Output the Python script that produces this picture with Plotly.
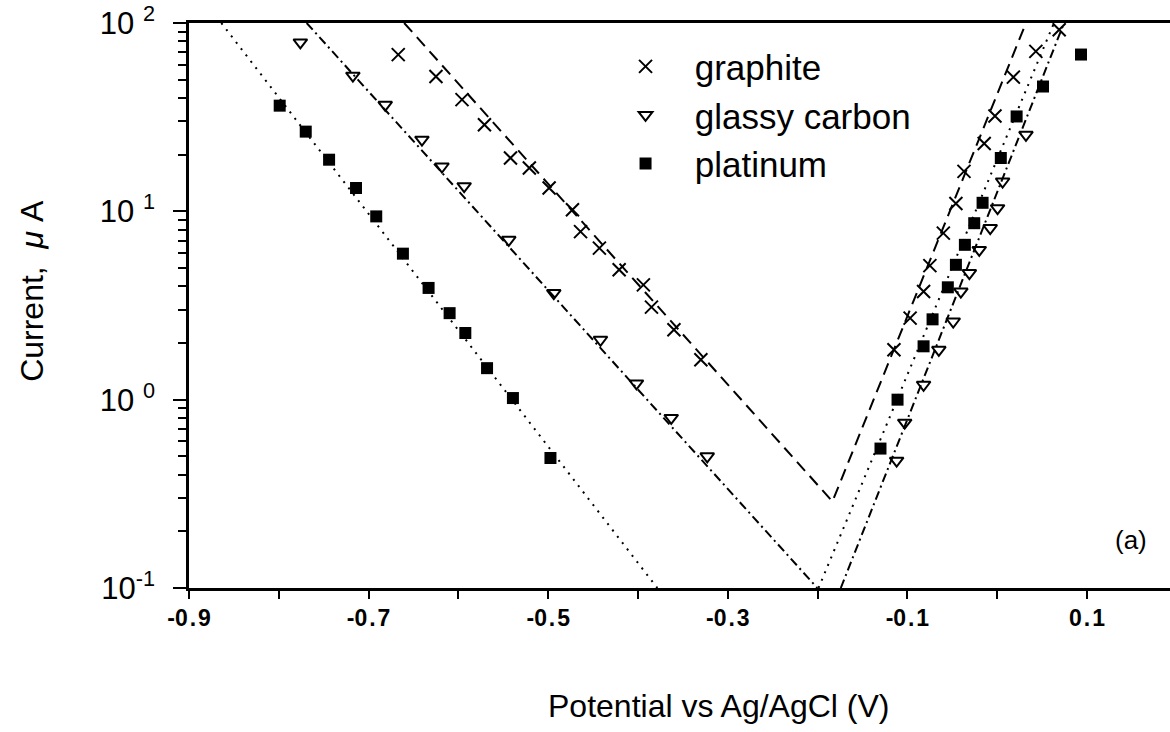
import plotly.graph_objects as go

# Tafel-type data: potential (V vs Ag/AgCl) and current (uA) for three electrodes
graphite_x = [-0.667, -0.625, -0.596, -0.571, -0.542, -0.521, -0.499, -0.473, -0.464,
              -0.443, -0.421, -0.394, -0.385, -0.360, -0.330,
              -0.115, -0.097, -0.082, -0.075, -0.060, -0.046, -0.037, -0.0145,
              -0.0025, 0.018, 0.043, 0.069]
graphite_i = [67.9, 52.0, 39.2, 28.8, 19.2, 17.0, 13.3, 10.2, 7.8,
              6.38, 4.9, 4.07, 3.1, 2.35, 1.63,
              1.84, 2.71, 3.75, 5.15, 7.66, 11.0, 16.3, 22.9,
              32.1, 51.6, 70.7, 92.0]

glassy_x = [-0.776, -0.7175, -0.6815, -0.6406, -0.6183, -0.5936, -0.5439, -0.4938,
            -0.4418, -0.4017, -0.363, -0.3229,
            -0.112, -0.103, -0.082, -0.065, -0.049, -0.0405, -0.031, -0.020,
            -0.0078, 0.0004, 0.006, 0.032]
glassy_i = [78.9, 52.5, 36.8, 24.0, 17.3, 13.6, 7.06, 3.68,
            2.08, 1.22, 0.80, 0.50,
            0.474, 0.755, 1.2, 1.84, 2.6, 3.75, 4.7, 6.24,
            8.15, 10.4, 14.4, 25.5]

platinum_x = [-0.799, -0.770, -0.744, -0.714, -0.6915, -0.6618, -0.6332, -0.6098,
              -0.5923, -0.5681, -0.5393, -0.4975,
              -0.130, -0.111, -0.082, -0.072, -0.055, -0.046, -0.036, -0.0256,
              -0.0163, 0.004, 0.0216, 0.051, 0.0933]
platinum_i = [36.4, 26.5, 18.8, 13.3, 9.4, 5.96, 3.92, 2.88,
              2.26, 1.47, 1.02, 0.49,
              0.55, 1.0, 1.92, 2.67, 3.95, 5.2, 6.64, 8.65,
              11.1, 19.2, 31.9, 46.0, 68.0]

# Fitted Tafel lines (cathodic and anodic branches)
graphite_fit_x = [-0.6604, -0.1835, 0.032]
graphite_fit_i = [100, 0.288, 100]
glassy_fit_x = [-0.769, -0.2003, None, -0.1742, 0.0744]
glassy_fit_i = [100, 0.1, None, 0.1, 100]
platinum_fit_x = [-0.864, -0.3785, None, -0.199, 0.0632]
platinum_fit_i = [100, 0.1, None, 0.1, 100]

sp = "\u200a"
x_tick_vals = [-0.9, -0.7, -0.5, -0.3, -0.1, 0.1]
x_tick_text = ["-0" + sp + "." + sp + "9", "-0" + sp + "." + sp + "7",
               "-0" + sp + "." + sp + "5", "-0" + sp + "." + sp + "3",
               "-0" + sp + "." + sp + "1", "0" + sp + "." + sp + "1"]
x_minor_vals = [-0.8, -0.6, -0.4, -0.2, 0.0]
y_tick_vals = [0.1, 1, 10, 100]
y_tick_text = ["10<sup>-1</sup>", "10<sup>\u2009\u20090</sup>",
               "10<sup>\u2009\u20091</sup>", "10<sup>\u2009\u20092</sup>"]
y_minor_vals = [m * 10 ** k for k in (-1, 0, 1) for m in range(2, 10)]

FONT = "Liberation Sans, Arial, Helvetica, sans-serif"
INK = "black"

fig = go.Figure()

fig.add_trace(go.Scatter(x=graphite_fit_x, y=graphite_fit_i, mode="lines",
                         line=dict(color=INK, width=2, dash="12px,7px"),
                         showlegend=False, hoverinfo="skip"))
fig.add_trace(go.Scatter(x=glassy_fit_x, y=glassy_fit_i, mode="lines",
                         line=dict(color=INK, width=2, dash="9px,4px,2px,4px"),
                         showlegend=False, hoverinfo="skip", connectgaps=False))
fig.add_trace(go.Scatter(x=platinum_fit_x, y=platinum_fit_i, mode="lines",
                         line=dict(color=INK, width=2, dash="2px,6px"),
                         showlegend=False, hoverinfo="skip", connectgaps=False))

nb = "\u00a0\u00a0\u00a0"
fig.add_trace(go.Scatter(x=graphite_x, y=graphite_i, mode="markers",
                         name=nb + "graphite", cliponaxis=False,
                         marker=dict(symbol="x-thin", size=13, color=INK,
                                     line=dict(color=INK, width=2))))
fig.add_trace(go.Scatter(x=glassy_x, y=glassy_i, mode="markers",
                         name=nb + "glassy carbon", cliponaxis=False,
                         marker=dict(symbol="triangle-down-open", size=12, color=INK,
                                     line=dict(color=INK, width=2))))
fig.add_trace(go.Scatter(x=platinum_x, y=platinum_i, mode="markers",
                         name=nb + "platinum", cliponaxis=False,
                         marker=dict(symbol="square", size=12, color=INK,
                                     line=dict(color=INK, width=0))))

fig.update_layout(
    width=1170, height=732,
    margin=dict(l=189, r=0, t=23, b=144, pad=0),
    paper_bgcolor="white", plot_bgcolor="white",
    font=dict(family=FONT, color=INK),
    showlegend=True,
    legend=dict(x=0.445, y=0.975, xanchor="left", yanchor="top",
                bgcolor="rgba(0,0,0,0)", borderwidth=0,
                font=dict(size=35, family=FONT, color=INK),
                itemsizing="trace", tracegroupgap=0),
    xaxis=dict(range=[-0.9, 0.1924], tickmode="array", tickvals=x_tick_vals,
               ticktext=x_tick_text, ticks="outside", ticklen=8, tickwidth=2,
               tickcolor=INK, showline=True, linewidth=2.5, linecolor=INK,
               mirror=True, showgrid=False, zeroline=False,
               tickfont=dict(size=23, family=FONT, color=INK, weight="bold"),
               minor=dict(tickmode="array", tickvals=x_minor_vals, ticks="outside",
                          ticklen=8, tickwidth=2, tickcolor=INK, showgrid=False)),
    yaxis=dict(type="log", range=[-1, 2], tickmode="array", tickvals=y_tick_vals,
               ticktext=y_tick_text, ticks="outside", ticklen=13, tickwidth=2,
               tickcolor=INK, showline=True, linewidth=2.5, linecolor=INK,
               showgrid=False, zeroline=False,
               tickfont=dict(size=31, family=FONT, color=INK),
               ticklabelstandoff=12,
               minor=dict(tickmode="array", tickvals=y_minor_vals, ticks="outside",
                          ticklen=8, tickwidth=1.5, tickcolor=INK, showgrid=False)),
)

fig.add_annotation(text="Potential vs Ag/AgCl (V)", xref="paper", yref="paper",
                   x=0.54, y=-0.209, xanchor="center", yanchor="middle",
                   showarrow=False, font=dict(size=32, family=FONT, color=INK))
fig.add_annotation(text="Current,\u00a0\u00a0<i>\u03bc</i> A", xref="paper", yref="paper",
                   x=-0.16, y=0.526, xanchor="center", yanchor="middle",
                   textangle=-90, showarrow=False,
                   font=dict(size=32, family=FONT, color=INK))
fig.add_annotation(text="(a)", xref="paper", yref="paper",
                   x=0.96, y=0.085, xanchor="center", yanchor="middle",
                   showarrow=False, font=dict(size=26, family=FONT, color=INK))

fig.write_html("out.html")
